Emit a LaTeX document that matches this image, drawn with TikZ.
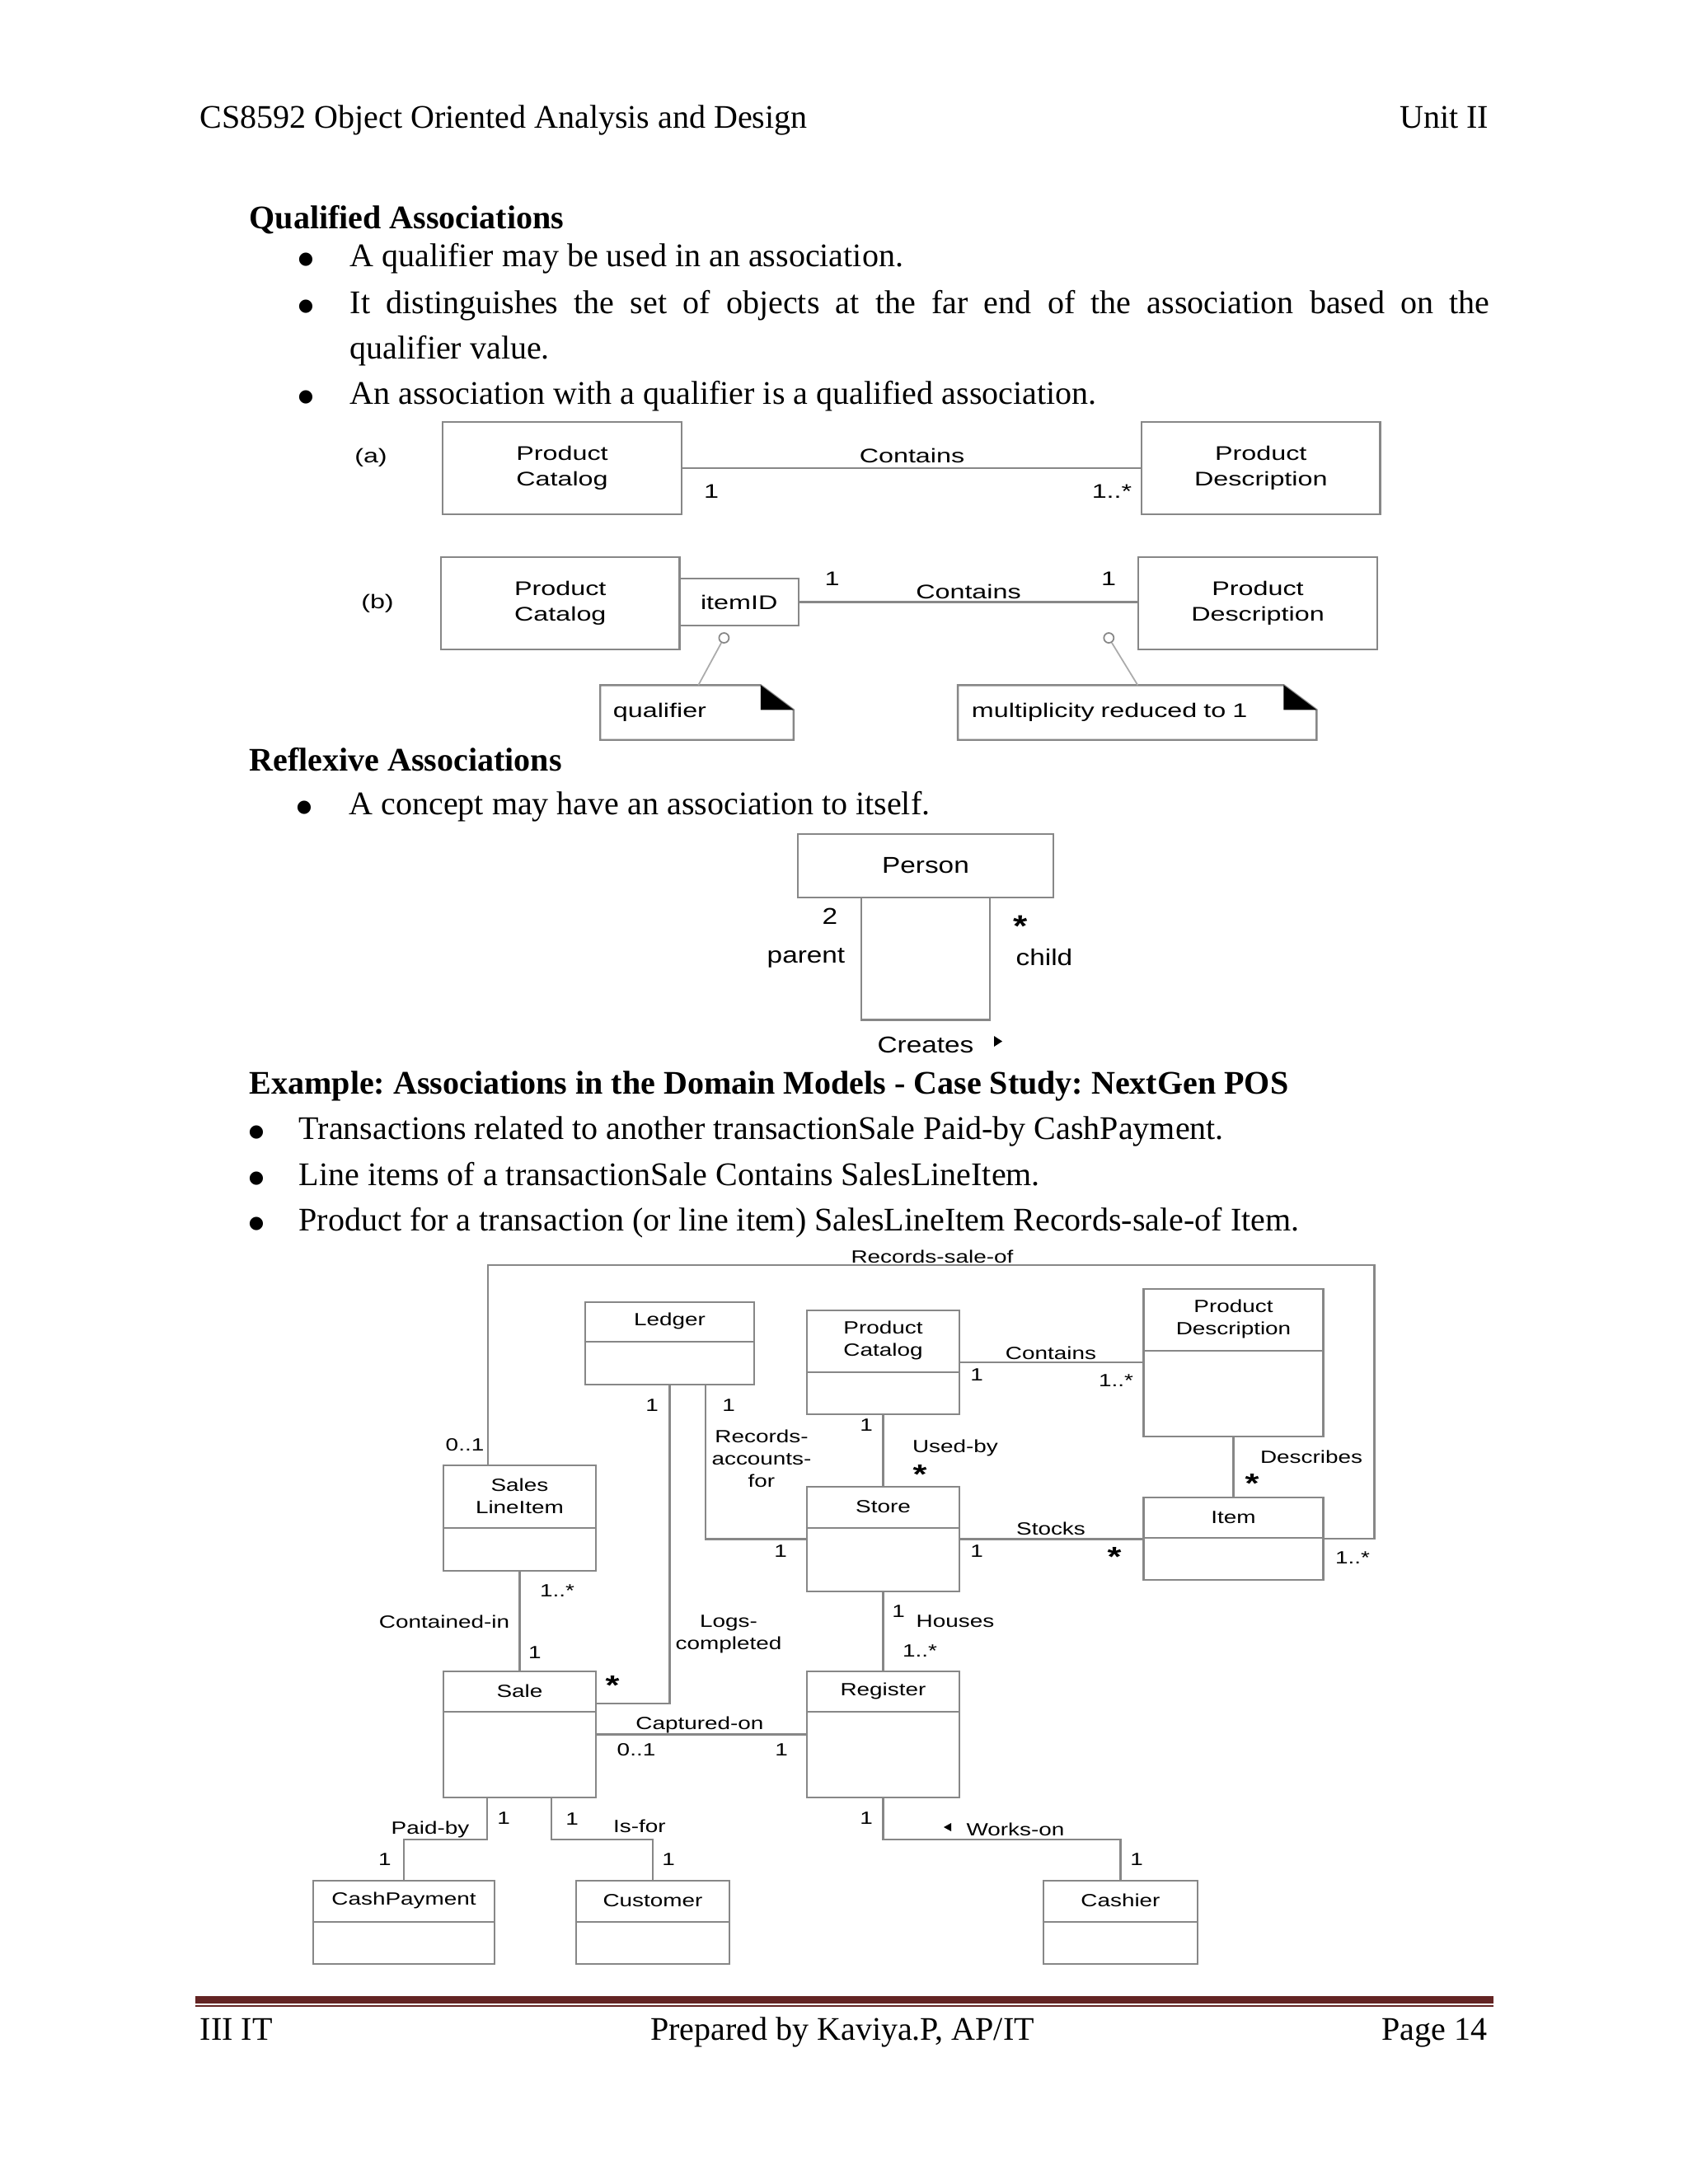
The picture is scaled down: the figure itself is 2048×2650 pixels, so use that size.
\documentclass[tikz,border=0pt]{standalone}
\usepackage{fontspec}
\setmainfont{Liberation Serif}
\newfontfamily\qualsans[FakeStretch=1.35]{Liberation Sans}
\newfontfamily\selfsans[FakeStretch=1.2]{Liberation Sans}
\newfontfamily\possans[FakeStretch=1.3]{Liberation Sans}
\newfontfamily\dotsans{DejaVu Sans}
\newcommand\pagetext{\fontsize{11.38}{14}\selectfont\frenchspacing}
\newcommand\qualtext{\qualsans\fontsize{6.8}{8.8}\selectfont}
\newcommand\selftext{\selfsans\fontsize{7.9}{9.5}\selectfont}
\newcommand\postext{\possans\fontsize{6.1}{7.7}\selectfont}
\definecolor{umlgray}{RGB}{135,135,135}
\definecolor{rulered}{RGB}{99,36,35}

\begin{document}
\begin{tikzpicture}[x=0.01cm, y=-0.01cm,
  txt/.style={anchor=base west, inner sep=0pt, font=\pagetext},
  dot/.style={anchor=base, inner sep=0pt, font=\dotsans\fontsize{6}{6}\selectfont, yshift=0.03cm},
  box/.style={draw=umlgray, line width=0.7pt, inner sep=0pt},
  assoc/.style={draw=umlgray, line width=0.7pt},
  tie/.style={draw=umlgray!70, line width=0.5pt},
  ql/.style={inner sep=0pt, align=center, font=\qualtext},
  sl/.style={inner sep=0pt, align=center, font=\selftext},
  pl/.style={inner sep=0pt, align=center, font=\postext},
  sstar/.style={inner sep=0pt, font=\selfsans\fontsize{10.5}{10.5}\selectfont\bfseries, yshift=-2.3pt},
  pstar/.style={inner sep=0pt, font=\possans\fontsize{9.5}{9.5}\selectfont\bfseries, yshift=-2.1pt}]

  % page
  \fill[white] (0,0) rectangle (2048,2650);
  \useasboundingbox (0,0) rectangle (2048,2650);

  % running head
  \node[txt] (head) at (242,155) {CS8592 Object Oriented Analysis and Design};
  \node[txt, anchor=base east] (unit) at (1807,155) {Unit II};

  % qualified associations: text
  \node[txt, font=\pagetext\bfseries] (qa) at (302,277) {Qualified Associations};
  \node[dot] (qa-d1) at (371,323) {●};
  \node[txt] (qa-t1) at (424,323) {A qualifier may be used in an association.};
  \node[dot] (qa-d2) at (371,380) {●};
  \node[txt] (qa-t2) at (424,380) {\makebox[13.82cm][s]{It distinguishes the set of objects at the far end of the association based on the}};
  \node[txt] (qa-t2b) at (424,435) {qualifier value.};
  \node[dot] (qa-d3) at (371,490) {●};
  \node[txt] (qa-t3) at (424,490) {An association with a qualifier is a qualified association.};

  % (a) plain association
  \node[ql] (la) at (450,555) {(a)};
  \node[box, ql, minimum width=2.90cm, minimum height=1.12cm] (pca) at (682,568) {Product\\Catalog};
  \node[box, ql, minimum width=2.895cm, minimum height=1.12cm] (pda) at (1529.8,568) {Product\\Description};
  \draw[assoc] (pca) -- (pda);
  \node[ql] (ca) at (1106.5,553) {Contains};
  \node[ql] (ma1) at (863,596) {1};
  \node[ql] (ma2) at (1349,596) {1..*};

  % (b) qualified association
  \node[ql] (lb) at (458,732) {(b)};
  \node[box, ql, minimum width=2.895cm, minimum height=1.12cm] (pcb) at (679.8,732) {Product\\Catalog};
  \node[box, ql, minimum width=1.443cm, minimum height=0.57cm] (iid) at (896.7,730.5) {itemID};
  \node[box, ql, minimum width=2.90cm, minimum height=1.12cm] (pdb) at (1526,732) {Product\\Description};
  \draw[assoc] (iid.east) -- (iid.east -| pdb.west);
  \node[ql] (cb) at (1175,718) {Contains};
  \node[ql] (mb1) at (1009.5,702) {1};
  \node[ql] (mb2) at (1345,702) {1};

  % notes
  \node[draw=umlgray, line width=0.5pt, circle, minimum size=0.12cm, inner sep=0pt] (qc1) at (878.4,774) {};
  \node[draw=umlgray, line width=0.5pt, circle, minimum size=0.12cm, inner sep=0pt] (qc2) at (1345.3,774) {};
  \node[ql, align=left, minimum width=2.33cm, minimum height=0.65cm, text width=2.03cm] (qnote) at (845.5,864.5) {qualifier};
  \node[ql, align=left, minimum width=4.335cm, minimum height=0.65cm, text width=4.015cm] (mnote) at (1379.8,864.5) {multiplicity reduced to 1};
  \draw[box] (qnote.south west) -- (qnote.north west) -- ([xshift=-0.4cm]qnote.north east)
    -- ([yshift=-0.3cm]qnote.north east) -- (qnote.south east) -- cycle;
  \fill ([xshift=-0.4cm]qnote.north east) -- ([xshift=-0.4cm, yshift=-0.3cm]qnote.north east)
    -- ([yshift=-0.3cm]qnote.north east) -- cycle;
  \draw[box] (mnote.south west) -- (mnote.north west) -- ([xshift=-0.4cm]mnote.north east)
    -- ([yshift=-0.3cm]mnote.north east) -- (mnote.south east) -- cycle;
  \fill ([xshift=-0.4cm]mnote.north east) -- ([xshift=-0.4cm, yshift=-0.3cm]mnote.north east)
    -- ([yshift=-0.3cm]mnote.north east) -- cycle;
  \draw[tie] (qc1) -- ([xshift=1.19cm]qnote.north west);
  \draw[tie] (qc2) -- ([xshift=2.18cm]mnote.north west);

  % reflexive associations: text
  \node[txt, font=\pagetext\bfseries] (ra) at (302,935) {Reflexive Associations};
  \node[dot] (ra-d1) at (369,988) {●};
  \node[txt] (ra-t1) at (423,988) {A concept may have an association to itself.};

  % Person and its loop
  \node[box, sl, minimum width=3.10cm, minimum height=0.77cm] (person) at (1123,1050.5) {Person};
  \draw[assoc] ([xshift=-0.78cm]person.south) -- ++(0,147) -| ([xshift=0.78cm]person.south);
  \node[sl] (m-two) at (1007,1112) {2};
  \node[sl] (r-par) at (978,1162) {parent};
  \node[sstar] (m-star) at (1238,1116) {*};
  \node[sl] (r-chi) at (1267,1162) {child};
  \node[sl] (creates) at (1123,1268) {Creates};
  \fill (1206,1257) -- (1216,1263.5) -- (1206,1270) -- cycle;

  % example: text
  \node[txt, font=\pagetext\bfseries] (ex) at (302,1327) {Example: Associations in the Domain Models - Case Study: NextGen POS};
  \node[dot] (ex-d1) at (311,1382) {●};
  \node[txt] (ex-t1) at (362,1382) {Transactions related to another transactionSale Paid-by CashPayment.};
  \node[dot] (ex-d2) at (311,1438) {●};
  \node[txt] (ex-t2) at (362,1438) {Line items of a transactionSale Contains SalesLineItem.};
  \node[dot] (ex-d3) at (311,1493) {●};
  \node[txt] (ex-t3) at (362,1493) {Product for a transaction (or line item) SalesLineItem Records-sale-of Item.};

  % NextGen POS classes: name/x/y/width/height/divider/title
  \foreach \n/\cx/\cy/\w/\h/\d/\t in {
      ledger/812.5/1630/2.05/1.00/0.49/Ledger,
      pcat/1071.5/1653/1.85/1.26/0.76/{Product\\Catalog},
      pdesc/1496.5/1653.5/2.18/1.79/0.76/{Product\\Description},
      sli/630.5/1842/1.85/1.28/0.77/{Sales\\LineItem},
      store/1071.5/1867.5/1.85/1.27/0.51/Store,
      item/1496.5/1867/2.18/1.00/0.50/Item,
      sale/630.5/2104.5/1.85/1.53/0.50/Sale,
      register/1071.5/2104.5/1.85/1.53/0.50/Register,
      cashpay/490/2332.5/2.20/1.01/0.51/CashPayment,
      customer/792/2332.5/1.86/1.01/0.51/Customer,
      cashier/1359.5/2332.5/1.87/1.01/0.51/Cashier} {
    \node[box, minimum width=\w cm, minimum height=\h cm] (\n) at (\cx,\cy) {};
    \draw[box] ([yshift=-\d cm]\n.north west) -- ([yshift=-\d cm]\n.north east);
    \node[pl] (\n-t) at ([yshift=-\d*5mm]\n.north) {\t};
  }

  % associations
  \coordinate (rso-l) at (592,1535);
  \coordinate (rso-r) at (1667.5,1535);
  \draw[assoc] (sli.north -| rso-l) -- (rso-l) -- (rso-r) |- (item.east);
  \draw[assoc] (pcat.east) -- (pcat.east -| pdesc.west);
  \draw[assoc] (pcat) -- (store);
  \draw[assoc] (pdesc) -- (item);
  \draw[assoc] (store.east) -- (store.east -| item.west);
  \draw[assoc] ([xshift=0.435cm]ledger.south) |- (store.west);
  \draw[assoc] (ledger.south) |- ([yshift=0.375cm]sale.east);
  \draw[assoc] (sli) -- (sale);
  \draw[assoc] (sale.east) -- (sale.east -| register.west);
  \draw[assoc] (store) -- (register);
  \coordinate (pb) at (490,2232);
  \draw[assoc] ([xshift=-0.395cm]sale.south) |- (pb) -- (cashpay.north);
  \coordinate (isf) at (792,2232);
  \draw[assoc] ([xshift=0.385cm]sale.south) |- (isf) -- (customer.north);
  \coordinate (won) at (1359.5,2232);
  \draw[assoc] (register.south) |- (won) -- (cashier.north);

  % association names and multiplicities
  \node[pl] (rso) at (1131,1525) {Records-sale-of};
  \node[pl] (rso-m1) at (564,1753) {0..1};
  \node[pl] (rso-m2) at (1641,1890) {1..*};
  \node[pl] (raf) at (924,1770) {Records-\\accounts-\\for};
  \node[pl] (raf-m1) at (884,1705) {1};
  \node[pl] (raf-m2) at (947,1882) {1};
  \node[pl] (lcp) at (884,1983) {Logs-\\completed};
  \node[pl] (lcp-m1) at (791,1705) {1};
  \node[pstar] (lcp-m2) at (743,2038) {*};
  \node[pl] (con) at (1275,1642) {Contains};
  \node[pl] (con-m1) at (1185,1668) {1};
  \node[pl] (con-m2) at (1354,1675) {1..*};
  \node[pl] (use) at (1159,1757) {Used-by};
  \node[pl] (use-m1) at (1051,1729) {1};
  \node[pstar] (use-m2) at (1116,1782) {*};
  \node[pl] (des) at (1591,1768) {Describes};
  \node[pstar] (des-m) at (1519,1793) {*};
  \node[pl] (stk) at (1275,1855) {Stocks};
  \node[pl] (stk-m1) at (1185,1882) {1};
  \node[pstar] (stk-m2) at (1352,1882) {*};
  \node[pl] (cin) at (539,1968) {Contained-in};
  \node[pl] (cin-m1) at (676,1930) {1..*};
  \node[pl] (cin-m2) at (649,2005) {1};
  \node[pl] (hou) at (1159,1967) {Houses};
  \node[pl] (hou-m1) at (1090,1955) {1};
  \node[pl] (hou-m2) at (1116,2003) {1..*};
  \node[pl] (cap) at (849,2093) {Captured-on};
  \node[pl] (cap-m1) at (772,2123) {0..1};
  \node[pl] (cap-m2) at (948,2123) {1};
  \node[pl] (pby) at (522,2220) {Paid-by};
  \node[pl] (pby-m1) at (611,2206) {1};
  \node[pl] (pby-m2) at (467,2256) {1};
  \node[pl] (isfor) at (776,2216) {Is-for};
  \node[pl] (isfor-m1) at (694,2207) {1};
  \node[pl] (isfor-m2) at (811,2256) {1};
  \node[pl] (wkon) at (1232,2220) {Works-on};
  \node[pl] (wkon-m1) at (1051,2206) {1};
  \node[pl] (wkon-m2) at (1379,2256) {1};
  \fill (1154,2212) -- (1145,2217) -- (1154,2222) -- cycle;

  % footer
  \draw[rulered, line width=0.09cm] (237,2426.5) -- (1812,2426.5);
  \draw[rulered, line width=0.025cm] (237,2434) -- (1812,2434);
  \node[txt] (ft-l) at (242,2475) {III IT};
  \node[txt, anchor=base] (ft-c) at (1022,2475) {Prepared by Kaviya.P, AP/IT};
  \node[txt, anchor=base east] (ft-r) at (1805,2475) {Page 14};
\end{tikzpicture}
\end{document}
